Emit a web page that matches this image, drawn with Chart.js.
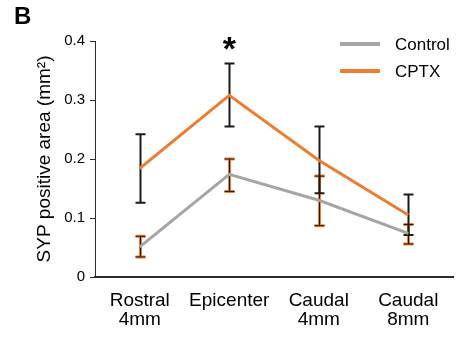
<!DOCTYPE html>
<html>
<head>
<meta charset="utf-8">
<script src="https://cdn.jsdelivr.net/npm/chart.js@4/dist/chart.umd.min.js"></script>
<style>
  html, body { margin: 0; padding: 0; background: #fff; }
</style>
</head>
<body>
<canvas id="syp" width="463" height="337"></canvas>
<script>
// SYP positive area per segment

var segments = [['Rostral', '4mm'], ['Epicenter'], ['Caudal', '4mm'], ['Caudal', '8mm']];

var control = [0.051, 0.174, 0.130, 0.074];
var controlLow = [0.034, 0.145, 0.087, 0.056];
var controlHigh = [0.069, 0.200, 0.171, 0.089];

var cptx = [0.184, 0.308, 0.198, 0.105];
var cptxLow = [0.126, 0.255, 0.142, 0.071];
var cptxHigh = [0.242, 0.362, 0.255, 0.140];

var yTicks = [0, 0.1, 0.2, 0.3, 0.4];
var significant = [1]; // asterisk boven epicenter

var grey = '#a5a5a5';
var orange = '#ed7d31';
var dark = '#1a1a1a';
var fontName = '"Liberation Sans", Arial, sans-serif';


// error bars tekenen met de schalen van de grafiek
function drawBars(ctx, xs, ys, low, high, color, width) {
    ctx.save();
    ctx.strokeStyle = color;
    ctx.lineWidth = width;
    for (var i = 0; i < low.length; i++) {
        var px = Math.round(xs.getPixelForValue(i)) + 0.5;
        var top = ys.getPixelForValue(high[i]);
        var bot = ys.getPixelForValue(low[i]);
        ctx.beginPath();
        ctx.moveTo(px, top);
        ctx.lineTo(px, bot);
        ctx.moveTo(px - 5, top);
        ctx.lineTo(px + 5, top);
        ctx.moveTo(px - 5, bot);
        ctx.lineTo(px + 5, bot);
        ctx.stroke();
    }
    ctx.restore();
}

var extras = {
    id: 'extras',
    beforeDatasetsDraw: function (chart) {
        var ctx = chart.ctx, xs = chart.scales.x, ys = chart.scales.y;
        drawBars(ctx, xs, ys, controlLow, controlHigh, orange, 3);
        drawBars(ctx, xs, ys, controlLow, controlHigh, dark, 1);
        drawBars(ctx, xs, ys, cptxLow, cptxHigh, dark, 2);
    },
    afterDraw: function (chart) {
        var ctx = chart.ctx, xs = chart.scales.x, ys = chart.scales.y;
        ctx.save();

        // paneel letter
        ctx.fillStyle = '#000';
        ctx.font = 'bold 24px ' + fontName;
        ctx.textAlign = 'left';
        ctx.textBaseline = 'alphabetic';
        ctx.fillText('B', 14, 24);

        // significantie
        ctx.font = 'bold 34px ' + fontName;
        ctx.textAlign = 'center';
        significant.forEach(function (i) {
            ctx.fillText('*', xs.getPixelForValue(i), ys.getPixelForValue(cptxHigh[i]) - 3);
        });

        // legenda
        ctx.font = '17px ' + fontName;
        ctx.textAlign = 'left';
        ctx.textBaseline = 'middle';
        chart.data.datasets.forEach(function (ds, k) {
            var ly = 44 + k * 27;
            ctx.strokeStyle = ds.borderColor;
            ctx.lineWidth = 4;
            ctx.beginPath();
            ctx.moveTo(340, ly);
            ctx.lineTo(380, ly);
            ctx.stroke();
            ctx.fillStyle = '#000';
            ctx.fillText(ds.label, 395, ly + 1);
        });
        ctx.restore();
    }
};

var ctx = document.getElementById('syp').getContext('2d');
var chart = new Chart(ctx, {

    type: 'line',

    data: {
        labels: segments,
        datasets: [{
            label: 'Control',
            data: control,
            borderColor: grey,
            borderWidth: 3,
            pointRadius: 0,
            tension: 0
        }, {
            label: 'CPTX',
            data: cptx,
            borderColor: orange,
            borderWidth: 3,
            pointRadius: 0,
            tension: 0
        }]
    },

    options: {
        responsive: false,
        animation: false,
        layout: {
            padding: { left: 29, top: 41, right: 10, bottom: 0 }
        },
        plugins: {
            legend: { display: false },
            tooltip: { enabled: false }
        },
        scales: {
            x: {
                offset: true,
                afterFit: function (s) { s.height = 60; },
                grid: { display: false, drawTicks: false },
                border: { display: true, color: '#2b2b2b', width: 2 },
                ticks: {
                    color: '#000',
                    padding: 14,
                    maxRotation: 0,
                    autoSkip: false,
                    font: { family: fontName, size: 19, lineHeight: 1.0 }
                }
            },
            y: {
                min: 0,
                max: 0.4,
                afterFit: function (s) { s.width = 66; },
                afterBuildTicks: function (s) {
                    s.ticks = yTicks.map(function (v) { return { value: v }; });
                },
                grid: {
                    display: true,
                    drawOnChartArea: false,
                    drawTicks: true,
                    tickLength: 5,
                    color: '#2b2b2b'
                },
                border: { display: true, color: '#2b2b2b', width: 1 },
                ticks: {
                    color: '#000',
                    padding: 5,
                    font: { family: fontName, size: 15 }
                },
                title: {
                    display: true,
                    text: 'SYP positive area (mm²)',
                    color: '#000',
                    font: { family: fontName, size: 19 }
                }
            }
        }
    },

    plugins: [extras]
});
</script>
</body>
</html>
